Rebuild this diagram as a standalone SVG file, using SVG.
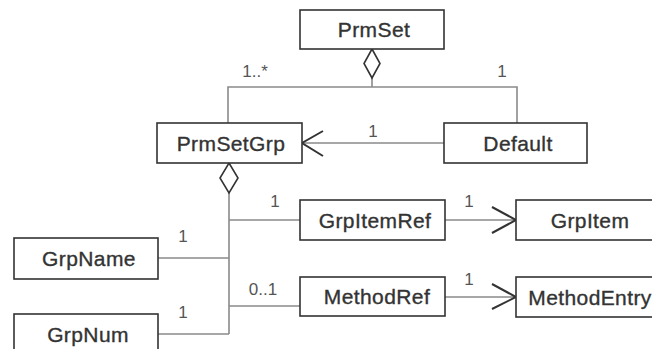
<svg xmlns="http://www.w3.org/2000/svg" width="652" height="349" viewBox="0 0 652 349">
<style>
.box{fill:#fff;stroke:#333;stroke-width:1.6}
.name{font-family:"Liberation Sans",Arial,sans-serif;font-size:21px;fill:#333;stroke:#333;stroke-width:0.35;text-anchor:middle;letter-spacing:0.4px}
.ln{fill:none;stroke:#8a8a8a;stroke-width:1.6}
.dia{fill:#fff;stroke:#333;stroke-width:1.6}
.arr{fill:none;stroke:#333;stroke-width:2}
.lbl{font-family:"Liberation Sans",Arial,sans-serif;font-size:17px;fill:#555;text-anchor:middle}
</style>
<rect width="652" height="349" fill="#fff"/>
<g id="connectors">
  <path class="ln" d="M372 78V87M228 123V87H517V123"/>
  <polygon class="dia" points="372,49 380,63.5 372,78 364,63.5"/>
  <text class="lbl" x="255" y="77">1..*</text>
  <text class="lbl" x="502" y="77">1</text>
  <path class="ln" d="M444 143H302"/>
  <path class="arr" d="M323 131L302 143L323 156"/>
  <text class="lbl" x="373" y="137">1</text>
  <path class="ln" d="M229 193V334M229 220H300M158 258H229M229 306H300M158 334H229"/>
  <polygon class="dia" points="229,163 238,178 229,193 220,178"/>
  <text class="lbl" x="275" y="207">1</text>
  <text class="lbl" x="183" y="242">1</text>
  <text class="lbl" x="263" y="295">0..1</text>
  <text class="lbl" x="183" y="318">1</text>
  <path class="ln" d="M445 220H516M445 297H516"/>
  <path class="arr" d="M492 207L516 220L492 233M492 284L516 297L492 309"/>
  <text class="lbl" x="469" y="207">1</text>
  <text class="lbl" x="469" y="285">1</text>
</g>
<g id="PrmSet"><rect class="box" x="300" y="10" width="144" height="39"/><text class="name" x="374" y="37">PrmSet</text></g>
<g id="PrmSetGrp"><rect class="box" x="157" y="123" width="145" height="40"/><text class="name" x="231" y="151">PrmSetGrp</text></g>
<g id="Default"><rect class="box" x="444" y="123" width="143" height="40"/><text class="name" x="518" y="151">Default</text></g>
<g id="GrpItemRef"><rect class="box" x="300" y="200" width="145" height="40"/><text class="name" x="375" y="228">GrpItemRef</text></g>
<g id="GrpItem"><rect class="box" x="516" y="200" width="148" height="40"/><text class="name" x="590" y="228">GrpItem</text></g>
<g id="MethodRef"><rect class="box" x="300" y="277" width="145" height="39"/><text class="name" x="377" y="304">MethodRef</text></g>
<g id="MethodEntry"><rect class="box" x="516" y="277" width="148" height="40"/><text class="name" x="590" y="305">MethodEntry</text></g>
<g id="GrpName"><rect class="box" x="14" y="238" width="144" height="41"/><text class="name" x="89" y="266">GrpName</text></g>
<g id="GrpNum"><rect class="box" x="14" y="314" width="144" height="42"/><text class="name" x="88" y="342">GrpNum</text></g>
</svg>
